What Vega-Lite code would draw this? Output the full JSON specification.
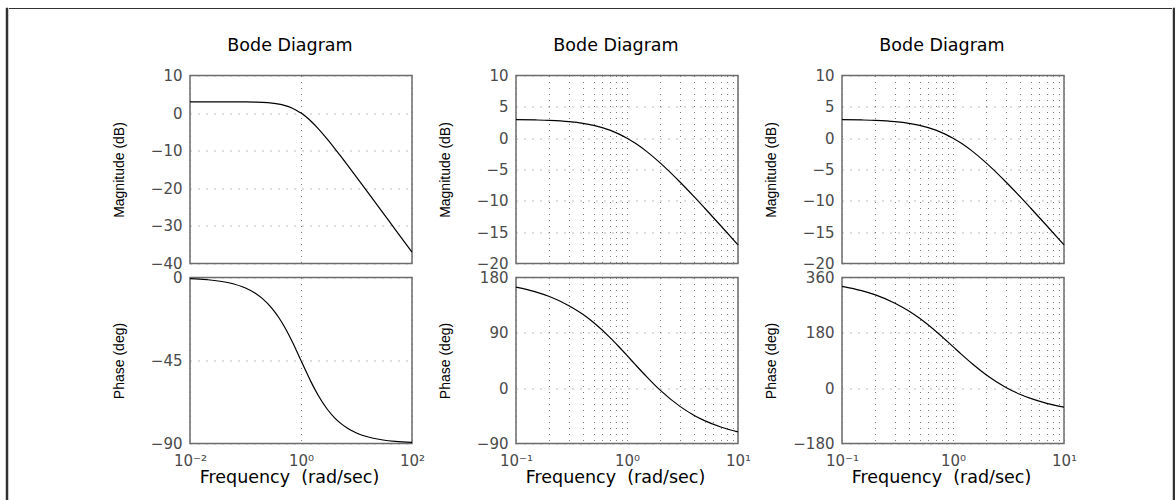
{
  "$schema": "https://vega.github.io/schema/vega-lite/v6.json",
  "padding": {"left": 5, "top": 7, "right": 0, "bottom": 0},
  "background": "white",
  "spacing": 0,
  "datasets": {
    "p1": [
      {"w": 0.01, "mag": 3.01, "ph": -0.57},
      {"w": 0.02, "mag": 3.01, "ph": -1.15},
      {"w": 0.05, "mag": 3.0, "ph": -2.86},
      {"w": 0.1, "mag": 2.97, "ph": -5.71},
      {"w": 0.15, "mag": 2.91, "ph": -8.53},
      {"w": 0.2, "mag": 2.84, "ph": -11.31},
      {"w": 0.3, "mag": 2.64, "ph": -16.7},
      {"w": 0.4, "mag": 2.37, "ph": -21.8},
      {"w": 0.5, "mag": 2.04, "ph": -26.57},
      {"w": 0.7, "mag": 1.28, "ph": -34.99},
      {"w": 0.85, "mag": 0.65, "ph": -40.36},
      {"w": 1, "mag": 0.0, "ph": -45},
      {"w": 1.2, "mag": -0.86, "ph": -50.19},
      {"w": 1.5, "mag": -2.11, "ph": -56.31},
      {"w": 2, "mag": -3.98, "ph": -63.43},
      {"w": 3, "mag": -6.99, "ph": -71.57},
      {"w": 4, "mag": -9.29, "ph": -75.96},
      {"w": 5, "mag": -11.14, "ph": -78.69},
      {"w": 7, "mag": -13.98, "ph": -81.87},
      {"w": 10, "mag": -17.03, "ph": -84.29},
      {"w": 20, "mag": -23.02, "ph": -87.14},
      {"w": 30, "mag": -26.54, "ph": -88.09},
      {"w": 50, "mag": -30.97, "ph": -88.85},
      {"w": 100, "mag": -36.99, "ph": -89.43}
    ],
    "p2": [
      {"w": 0.1, "mag": 2.97, "ph": 164.4},
      {"w": 0.15, "mag": 2.91, "ph": 156.7},
      {"w": 0.2, "mag": 2.84, "ph": 149.1},
      {"w": 0.3, "mag": 2.64, "ph": 134.2},
      {"w": 0.4, "mag": 2.37, "ph": 120.1},
      {"w": 0.5, "mag": 2.04, "ph": 106.7},
      {"w": 0.7, "mag": 1.28, "ph": 82.6},
      {"w": 0.85, "mag": 0.65, "ph": 66.9},
      {"w": 1, "mag": 0.0, "ph": 53.2},
      {"w": 1.2, "mag": -0.86, "ph": 37.5},
      {"w": 1.5, "mag": -2.11, "ph": 18.8},
      {"w": 2, "mag": -3.98, "ph": -3.6},
      {"w": 3, "mag": -6.99, "ph": -29.6},
      {"w": 4, "mag": -9.29, "ph": -43.9},
      {"w": 5, "mag": -11.14, "ph": -52.8},
      {"w": 7, "mag": -13.98, "ph": -63.2},
      {"w": 10, "mag": -17.03, "ph": -71.2}
    ],
    "p3": [
      {"w": 0.1, "mag": 2.97, "ph": 331.4},
      {"w": 0.15, "mag": 2.91, "ph": 317.3},
      {"w": 0.2, "mag": 2.84, "ph": 303.4},
      {"w": 0.3, "mag": 2.64, "ph": 276.5},
      {"w": 0.4, "mag": 2.37, "ph": 251.0},
      {"w": 0.5, "mag": 2.04, "ph": 227.2},
      {"w": 0.7, "mag": 1.28, "ph": 185.1},
      {"w": 0.85, "mag": 0.65, "ph": 158.2},
      {"w": 1, "mag": 0.0, "ph": 135},
      {"w": 1.2, "mag": -0.86, "ph": 109.0},
      {"w": 1.5, "mag": -2.11, "ph": 78.4},
      {"w": 2, "mag": -3.98, "ph": 42.8},
      {"w": 3, "mag": -6.99, "ph": 2.2},
      {"w": 4, "mag": -9.29, "ph": -19.8},
      {"w": 5, "mag": -11.14, "ph": -33.4},
      {"w": 7, "mag": -13.98, "ph": -49.3},
      {"w": 10, "mag": -17.03, "ph": -61.4}
    ]
  },
  "hconcat": [
    {
      "width": 2, "height": 495,
      "view": {"stroke": "#333333", "strokeWidth": 0.5, "fill": "#333333"},
      "data": {"values": []},
      "mark": "point",
      "encoding": {}
    },
    {
      "spacing": 26.5,
      "vconcat": [
        {
          "width": 1163, "height": 1,
          "view": {"stroke": null, "fill": "#333333"},
          "data": {"values": []},
          "mark": "point",
          "encoding": {}
        },
        {
          "spacing": 11,
          "hconcat": [
            {
              "width": 91, "height": 10,
              "view": {"stroke": null},
              "data": {"values": []},
              "mark": "point",
              "encoding": {}
            },
            {
              "bounds": "flush",
              "spacing": 14,
              "vconcat": [
                {
                  "width": 222, "height": 188,
                  "title": "Bode Diagram",
                  "data": {"name": "p1"},
                  "mark": "line",
                  "encoding": {
                    "x": {"field": "w", "type": "quantitative", "scale": {"type": "log", "domain": [0.01, 100], "nice": false},
                          "axis": {"values": [0.01, 1, 100], "labels": false, "title": null}},
                    "y": {"field": "mag", "type": "quantitative", "scale": {"domain": [-40, 10], "nice": false, "zero": false},
                          "axis": {"values": [-40, -30, -20, -10, 0, 10], "title": "Magnitude (dB)", "titleY": 94}}
                  }
                },
                {
                  "width": 222, "height": 166,
                  "data": {"name": "p1"},
                  "mark": "line",
                  "encoding": {
                    "x": {"field": "w", "type": "quantitative", "scale": {"type": "log", "domain": [0.01, 100], "nice": false},
                          "axis": {"values": [0.01, 1, 100], "labelExpr": "datum.value < 0.05 ? '10⁻²' : datum.value < 5 ? '10⁰' : '10²'", "title": "Frequency\u00a0 (rad/sec)"}},
                    "y": {"field": "ph", "type": "quantitative", "scale": {"domain": [-90, 0], "nice": false, "zero": false},
                          "axis": {"values": [-90, -45, 0], "title": "Phase (deg)", "titleY": 83}}
                  }
                }
              ]
            },
            {
              "bounds": "flush",
              "spacing": 14,
              "vconcat": [
                {
                  "width": 222, "height": 188,
                  "title": "Bode Diagram",
                  "data": {"name": "p2"},
                  "mark": "line",
                  "encoding": {
                    "x": {"field": "w", "type": "quantitative", "scale": {"type": "log", "domain": [0.1, 10], "nice": false},
                          "axis": {"values": [0.1, 0.2, 0.3, 0.4, 0.5, 0.6, 0.7, 0.8, 0.9, 1, 2, 3, 4, 5, 6, 7, 8, 9, 10], "labels": false, "title": null}},
                    "y": {"field": "mag", "type": "quantitative", "scale": {"domain": [-20, 10], "nice": false, "zero": false},
                          "axis": {"values": [-20, -15, -10, -5, 0, 5, 10], "title": "Magnitude (dB)", "titleY": 94}}
                  }
                },
                {
                  "width": 222, "height": 166,
                  "data": {"name": "p2"},
                  "mark": "line",
                  "encoding": {
                    "x": {"field": "w", "type": "quantitative", "scale": {"type": "log", "domain": [0.1, 10], "nice": false},
                          "axis": {"values": [0.1, 0.2, 0.3, 0.4, 0.5, 0.6, 0.7, 0.8, 0.9, 1, 2, 3, 4, 5, 6, 7, 8, 9, 10], "labelExpr": "datum.value == 0.1 ? '10⁻¹' : datum.value == 1 ? '10⁰' : datum.value == 10 ? '10¹' : ''", "title": "Frequency\u00a0 (rad/sec)"}},
                    "y": {"field": "ph", "type": "quantitative", "scale": {"domain": [-90, 180], "nice": false, "zero": false},
                          "axis": {"values": [-90, 0, 90, 180], "title": "Phase (deg)", "titleY": 83}}
                  }
                }
              ]
            },
            {
              "bounds": "flush",
              "spacing": 14,
              "vconcat": [
                {
                  "width": 222, "height": 188,
                  "title": "Bode Diagram",
                  "data": {"name": "p3"},
                  "mark": "line",
                  "encoding": {
                    "x": {"field": "w", "type": "quantitative", "scale": {"type": "log", "domain": [0.1, 10], "nice": false},
                          "axis": {"values": [0.1, 0.2, 0.3, 0.4, 0.5, 0.6, 0.7, 0.8, 0.9, 1, 2, 3, 4, 5, 6, 7, 8, 9, 10], "labels": false, "title": null}},
                    "y": {"field": "mag", "type": "quantitative", "scale": {"domain": [-20, 10], "nice": false, "zero": false},
                          "axis": {"values": [-20, -15, -10, -5, 0, 5, 10], "title": "Magnitude (dB)", "titleY": 94}}
                  }
                },
                {
                  "width": 222, "height": 166,
                  "data": {"name": "p3"},
                  "mark": "line",
                  "encoding": {
                    "x": {"field": "w", "type": "quantitative", "scale": {"type": "log", "domain": [0.1, 10], "nice": false},
                          "axis": {"values": [0.1, 0.2, 0.3, 0.4, 0.5, 0.6, 0.7, 0.8, 0.9, 1, 2, 3, 4, 5, 6, 7, 8, 9, 10], "labelExpr": "datum.value == 0.1 ? '10⁻¹' : datum.value == 1 ? '10⁰' : datum.value == 10 ? '10¹' : ''", "title": "Frequency\u00a0 (rad/sec)"}},
                    "y": {"field": "ph", "type": "quantitative", "scale": {"domain": [-180, 360], "nice": false, "zero": false},
                          "axis": {"values": [-180, 0, 180, 360], "title": "Phase (deg)", "titleY": 83}}
                  }
                }
              ]
            }
          ]
        }
      ]
    },
    {
      "width": 2, "height": 495,
      "view": {"stroke": "#333333", "strokeWidth": 0.5, "fill": "#333333"},
      "data": {"values": []},
      "mark": "point",
      "encoding": {}
    }
  ],
  "config": {
    "font": "DejaVu Sans",
    "view": {"stroke": "#6b6b6b", "strokeWidth": 1.5},
    "line": {"color": "#000000", "strokeWidth": 1.2, "interpolate": "monotone"},
    "axis": {
      "grid": true, "gridColor": "#7a7a7a", "gridWidth": 1, "domain": false, "ticks": false,
      "labelFont": "DejaVu Sans", "labelFontSize": 15, "labelColor": "#4a4a4a", "labelOverlap": false,
      "titleFontWeight": "normal", "titleColor": "#000000"
    },
    "axisX": {
      "gridDash": [1, 5], "labelFlush": false, "labelPadding": 10, "labelBaseline": "top",
      "titleFont": "DejaVu Sans", "titleFontSize": 17.5, "titleX": 99, "titleY": 39,
      "titleBaseline": "alphabetic", "titleAlign": "center"
    },
    "axisY": {
      "gridDash": [1, 7], "labelPadding": 8,
      "titleFont": "Liberation Sans Narrow, Liberation Sans", "titleFontSize": 14, "titleX": -71,
      "titleAngle": 270, "titleAlign": "center", "titleBaseline": "middle"
    },
    "title": {
      "font": "DejaVu Sans", "fontSize": 17.5, "fontWeight": "normal", "color": "#000000",
      "anchor": "middle", "frame": "group", "dx": -11, "offset": 14, "baseline": "alphabetic"
    }
  }
}
